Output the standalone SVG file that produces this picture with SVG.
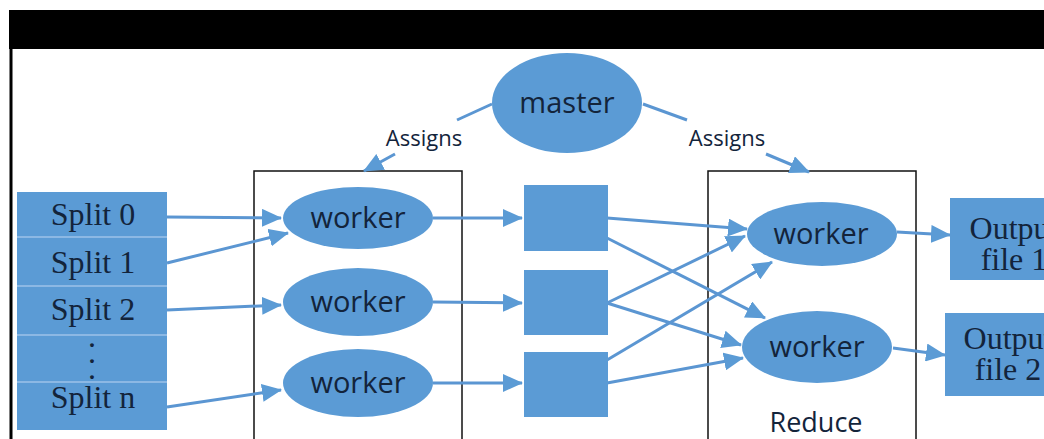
<svg xmlns="http://www.w3.org/2000/svg" width="1044" height="439" viewBox="0 0 1044 439">
<style>
.node{fill:#5b9bd5}
.edge{stroke:#5b96d2;stroke-width:3;fill:none;marker-end:url(#arrow)}
.link{stroke:#5b96d2;stroke-width:3;fill:none}
.sans{font-family:"Open Sans","Liberation Sans",sans-serif;fill:#13243b;text-anchor:middle}
.serif{font-family:"Liberation Serif","Times New Roman",serif;fill:#13243b;text-anchor:middle;font-size:32px}
.frame{fill:none;stroke:#111;stroke-width:1.5}
.sep{stroke:#9cc2e8;stroke-width:1.5}
</style>
<defs>
<marker id="arrow" markerUnits="userSpaceOnUse" viewBox="0 0 20 18" markerWidth="20" markerHeight="18" refX="19" refY="9" orient="auto">
<path d="M0,0 L20,9 L0,18 Z" fill="#5b9bd5"/>
</marker>
</defs>
<rect x="0" y="0" width="1044" height="439" fill="#ffffff"/>
<rect x="9" y="10" width="1035" height="39" fill="#000000"/>
<line x1="11" y1="49" x2="11" y2="439" stroke="#000" stroke-width="3"/>

<g id="map-box"><rect class="frame" x="254" y="171" width="208" height="280"/></g>
<g id="reduce-box"><rect class="frame" x="708" y="171" width="208" height="280"/>
<text class="sans" x="816" y="432" font-size="27">Reduce</text></g>

<g id="connectors">
<line class="link" x1="492" y1="104" x2="457" y2="120"/>
<line class="edge" x1="395" y1="154" x2="364" y2="171"/>
<line class="link" x1="643" y1="104" x2="687" y2="120"/>
<line class="edge" x1="766" y1="154" x2="809" y2="172"/>
<line class="edge" x1="167" y1="217" x2="281" y2="218"/>
<line class="edge" x1="167" y1="263" x2="288" y2="233"/>
<line class="edge" x1="167" y1="310" x2="281" y2="305"/>
<line class="edge" x1="167" y1="407" x2="281" y2="390"/>
<line class="edge" x1="433" y1="218" x2="522" y2="218"/>
<line class="edge" x1="433" y1="302" x2="522" y2="303"/>
<line class="edge" x1="433" y1="383" x2="522" y2="383"/>
<line class="edge" x1="607" y1="218" x2="747" y2="229"/>
<line class="edge" x1="607" y1="238" x2="765" y2="318"/>
<line class="edge" x1="607" y1="303" x2="745" y2="236"/>
<line class="edge" x1="607" y1="303" x2="741" y2="345"/>
<line class="edge" x1="607" y1="360" x2="772" y2="262"/>
<line class="edge" x1="607" y1="383" x2="743" y2="358"/>
<line class="edge" x1="897" y1="232" x2="950" y2="235"/>
<line class="edge" x1="893" y1="348" x2="945" y2="355"/>
</g>

<g id="master"><ellipse class="node" cx="567" cy="103" rx="75" ry="50"/>
<text class="sans" x="567" y="113" font-size="29">master</text></g>
<g id="assigns-left"><text class="sans" x="424" y="146" font-size="22">Assigns</text></g>
<g id="assigns-right"><text class="sans" x="727" y="146" font-size="22">Assigns</text></g>

<g id="splits">
<rect class="node" x="17" y="192" width="150" height="238"/>
<line class="sep" x1="17" y1="237" x2="167" y2="237"/>
<line class="sep" x1="17" y1="286" x2="167" y2="286"/>
<line class="sep" x1="17" y1="335" x2="167" y2="335"/>
<line class="sep" x1="17" y1="382" x2="167" y2="382"/>
<text class="serif" x="93" y="225">Split 0</text>
<text class="serif" x="93" y="273">Split 1</text>
<text class="serif" x="93" y="320">Split 2</text>
<text class="serif" x="92" y="347" font-size="26">.<tspan x="92" dy="16">.</tspan><tspan x="92" dy="16">.</tspan></text>
<text class="serif" x="93" y="408">Split n</text>
</g>

<g id="map-worker-1"><ellipse class="node" cx="358" cy="218" rx="75" ry="31"/>
<text class="sans" x="358" y="228" font-size="29">worker</text></g>
<g id="map-worker-2"><ellipse class="node" cx="358" cy="302" rx="75" ry="34"/>
<text class="sans" x="358" y="312" font-size="29">worker</text></g>
<g id="map-worker-3"><ellipse class="node" cx="358" cy="383" rx="75" ry="34"/>
<text class="sans" x="358" y="393" font-size="29">worker</text></g>

<g id="inter-1"><rect class="node" x="524" y="185" width="84" height="66"/></g>
<g id="inter-2"><rect class="node" x="524" y="270" width="84" height="65"/></g>
<g id="inter-3"><rect class="node" x="524" y="352" width="84" height="65"/></g>

<g id="reduce-worker-1"><ellipse class="node" cx="822" cy="234" rx="75" ry="32"/>
<text class="sans" x="821" y="244" font-size="29">worker</text></g>
<g id="reduce-worker-2"><ellipse class="node" cx="817" cy="347" rx="75" ry="36"/>
<text class="sans" x="817" y="357" font-size="29">worker</text></g>

<g id="output-1"><rect class="node" x="950" y="198" width="135" height="82"/>
<text class="serif" x="1014" y="239">Output</text>
<text class="serif" x="1014" y="270">file 1</text></g>
<g id="output-2"><rect class="node" x="945" y="313" width="135" height="83"/>
<text class="serif" x="1008" y="349">Output</text>
<text class="serif" x="1008" y="380">file 2</text></g>
</svg>
